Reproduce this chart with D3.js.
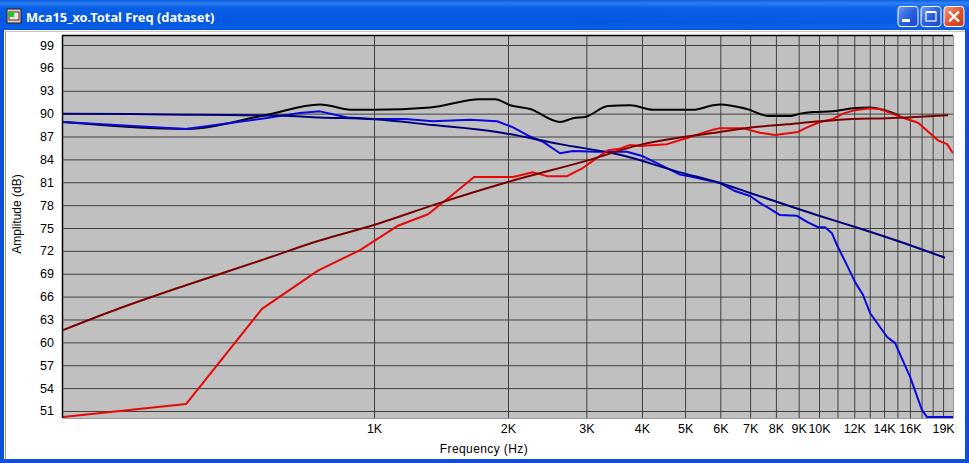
<!DOCTYPE html>
<html><head><meta charset="utf-8">
<script src="https://cdn.jsdelivr.net/npm/d3@7"></script>
<style>html,body{margin:0;padding:0;background:#fff;overflow:hidden}svg{display:block}</style>
</head><body><svg id="c" width="969" height="463"></svg>
<script>
const title = "Mca15_xo.Total Freq (dataset)";
const xTitle = "Frequency (Hz)";
const yTitle = "Amplitude (dB)";
const yTicks = [51,54,57,60,63,66,69,72,75,78,81,84,87,90,93,96,99];
const xGrid = [1000,2000,3000,4000,5000,6000,7000,8000,9000,10000,11000,12000,13000,14000,15000,16000,17000,18000,19000];
const xLabeled = [1000,2000,3000,4000,5000,6000,7000,8000,9000,10000,12000,14000,16000,19000];

const blackF = [200,378,569,756,897,1000,1336,1730,1871,2021,2242,2618,2800,2994,3356,3763,4240,5207,5781,5992,6407,6887,7678,8610,9066,9694,10751,11922,13018,13930,15205];
const blackD = [88.9,88.0,89.8,91.2,90.5,90.5,90.8,91.9,91.9,91.1,90.6,88.9,89.4,89.6,91.0,91.1,90.5,90.5,91.1,91.2,91.0,90.6,89.7,89.7,90.0,90.2,90.3,90.7,90.8,90.5,89.7];

const blueF = [200,378,569,682,756,871,1000,1174,1357,1643,1890,2053,2242,2398,2618,2800,3170,3702,4022,4391,4872,5207,5992,6475,6998,7362,7762,8170,8924,9397,9950,10316,10693,10965,11560,12050,12560,13018,14220,14825,15050,16010,17040,17490,20000];
const blueD = [88.9,88.0,89.4,90.1,90.3,89.5,89.3,89.3,89.0,89.2,89.0,88.2,87.0,86.3,84.8,85.1,85.0,85.0,84.4,83.3,82.0,81.7,80.9,79.85,79.2,78.3,77.5,76.7,76.6,75.8,75.1,75.1,74.3,72.8,70.1,67.9,66.2,63.85,60.7,59.9,59.0,55.5,51.1,50.2,50.2];

const navyF = [200,340,615,756,1000,1357,1890,2618,3570,4872,5992,7000,10000,12100,15205,19190];
const navyD = [90.0,89.9,89.75,89.5,89.25,88.5,87.6,86.0,84.6,82.3,80.9,79.6,76.6,75.1,73.2,71.1];

const redF = [200,378,560,748,930,1132,1322,1482,1678,2053,2276,2447,2715,2950,3170,3356,3570,3763,3960,4553,5050,5781,5992,6745,7362,7962,8971,9397,10050,10751,11320,11922,13018,13710,15205,16695,18500,19400,20000];
const redD = [50.2,51.9,64.4,69.4,72.1,75.3,76.8,79.1,81.7,81.7,82.3,81.8,81.8,82.9,84.2,85.2,85.4,85.9,85.75,86.0,86.8,87.9,88.1,88.1,87.5,87.2,87.6,88.2,88.9,89.3,90.0,90.4,90.7,90.6,89.6,88.8,86.5,86.0,84.8];

const maroonF = [200,269,378,554,748,1000,1407,1990,2994,3960,5050,5992,7108,8472,10050,11922,14220,16865,19490];
const maroonD = [61.6,64.5,67.5,70.7,73.3,75.4,78.3,81.0,83.8,85.9,87.0,87.6,88.2,88.6,89.0,89.3,89.4,89.6,89.8];

const seriesList = [
  {f:blackF, d:blackD, c:"#000000"},
  {f:blueF, d:blueD, c:"#0808e0"},
  {f:navyF, d:navyD, c:"#00007c"},
  {f:redF, d:redD, c:"#e80808"},
  {f:maroonF, d:maroonD, c:"#7c0000"}
];

const svg = d3.select("#c");
const sans = "'Liberation Sans', Arial, sans-serif";
const defs = svg.append("defs");
const g1 = defs.append("linearGradient").attr("id","tb").attr("x1",0).attr("x2",0).attr("y1",0).attr("y2",1);
[[0,"#0a5be0"],[0.1,"#3a8cf5"],[0.25,"#0a62e8"],[0.7,"#0355e0"],[0.9,"#0a64ec"],[1,"#0040c0"]].forEach(s=>g1.append("stop").attr("offset",s[0]).attr("stop-color",s[1]));
const g2 = defs.append("linearGradient").attr("id","tbh").attr("x1",0).attr("x2",1).attr("y1",0).attr("y2",0);
[[0,"#0558e0"],[0.6,"#0558e0"],[1,"#1a6cf0"]].forEach(s=>g2.append("stop").attr("offset",s[0]).attr("stop-color",s[1]).attr("stop-opacity",0.3));
const g3 = defs.append("linearGradient").attr("id","btn").attr("x1",0).attr("x2",1).attr("y1",0).attr("y2",1);
[[0,"#6f9bf5"],[0.5,"#2a5fe0"],[1,"#1a48c8"]].forEach(s=>g3.append("stop").attr("offset",s[0]).attr("stop-color",s[1]));
const g4 = defs.append("linearGradient").attr("id","btnx").attr("x1",0).attr("x2",1).attr("y1",0).attr("y2",1);
[[0,"#eda08a"],[0.5,"#e0552f"],[1,"#c63a18"]].forEach(s=>g4.append("stop").attr("offset",s[0]).attr("stop-color",s[1]));

// window frame
svg.append("rect").attr("width",969).attr("height",463).attr("fill","#0a50d8");
svg.append("rect").attr("width",969).attr("height",31).attr("fill","url(#tb)");
svg.append("rect").attr("width",969).attr("height",31).attr("fill","url(#tbh)");
svg.append("rect").attr("x",4).attr("y",30).attr("width",961).attr("height",429).attr("fill","#ffffff");
svg.append("path").attr("d","M5.5 459V31.5").attr("stroke","#9a9a9a").attr("fill","none").attr("stroke-width",1);
svg.append("path").attr("d","M4 31.5H965").attr("stroke","#c8c8c8").attr("fill","none").attr("stroke-width",1);

// title bar contents
const ic = svg.append("g");
ic.append("rect").attr("x",7).attr("y",9).attr("width",14).attr("height",14).attr("fill","#d8d0c0").attr("stroke","#202020");
ic.append("rect").attr("x",9).attr("y",12).attr("width",10).attr("height",8).attr("fill","#e8e8e0").attr("stroke","#802020");
ic.append("rect").attr("x",9).attr("y",12).attr("width",5).attr("height",5).attr("fill","#10d020");
svg.append("text").attr("x",26).attr("y",22).attr("fill","#fff").attr("font-family","'Noto Sans', 'DejaVu Sans', sans-serif").attr("font-weight",700).attr("font-size",12.85).text(title);

const btn = (x,fill)=>svg.append("rect").attr("x",x).attr("y",6.5).attr("width",20).attr("height",20).attr("rx",3).attr("fill",fill).attr("stroke","#fff");
btn(898,"url(#btn)"); btn(921,"url(#btn)"); btn(944,"url(#btnx)");
svg.append("rect").attr("x",902).attr("y",19).attr("width",8).attr("height",3).attr("fill","#fff");
svg.append("rect").attr("x",926).attr("y",12).attr("width",10).attr("height",9).attr("fill","none").attr("stroke","#fff").attr("stroke-width",1.2);
svg.append("rect").attr("x",926).attr("y",11).attr("width",10).attr("height",2).attr("fill","#fff");
svg.append("path").attr("d","M949 11.5L959 21.5M959 11.5L949 21.5").attr("stroke","#fff").attr("stroke-width",2.4).attr("fill","none");

// plot
const left=63, right=953, top_=36, bottom=418;
const x = d3.scaleLog().domain([200,20000]).range([left,right]);
const y = d3.scaleLinear().domain([50,100]).range([418.6,37.4]);

svg.append("rect").attr("x",left).attr("y",top_).attr("width",right-left).attr("height",bottom-top_).attr("fill","#c0c0c0");

const gridH = svg.append("g").attr("transform",`translate(${left},0)`)
  .call(d3.axisLeft(y).tickValues(yTicks).tickSize(-(right-left)).tickFormat(d=>d).tickPadding(9));
gridH.select(".domain").remove();
gridH.selectAll("line").attr("stroke","#404040").attr("stroke-width",1);
gridH.selectAll("text").attr("font-family",sans).attr("font-size",12.5).attr("fill","#000");

const gridV = svg.append("g").attr("transform",`translate(0,${bottom})`)
  .call(d3.axisBottom(x).tickValues(xGrid).tickSize(-(bottom-top_)).tickFormat(""));
gridV.select(".domain").remove();
gridV.selectAll("line").attr("stroke","#404040").attr("stroke-width",1);

const labV = svg.append("g").attr("transform",`translate(0,${bottom})`)
  .call(d3.axisBottom(x).tickValues(xLabeled).tickSize(0).tickPadding(6).tickFormat(d=>(d/1000)+"K"));
labV.select(".domain").remove();
labV.selectAll("text").attr("font-family",sans).attr("font-size",12.5).attr("fill","#000");

const line = d3.line().x(p=>x(p[0])).y(p=>y(p[1])).curve(d3.curveMonotoneX);
seriesList.forEach(s=>{
  const curve = s.f === redF || s.f === blueF ? d3.curveLinear : d3.curveMonotoneX;
  svg.append("path").datum(s.f.map((v,i)=>[v,s.d[i]])).attr("d",line.curve(curve))
    .attr("fill","none").attr("stroke",s.c).attr("stroke-width",2).attr("stroke-linejoin","round");
});

// frame edges
svg.append("path").attr("d",`M${left-.5} ${bottom}V${top_-.5}H${right}`).attr("fill","none").attr("stroke","#000").attr("stroke-width",1.5);
svg.append("path").attr("d",`M${left} ${bottom+.5}H${right+.5}V${top_}`).attr("fill","none").attr("stroke","#9a9a9a").attr("stroke-width",1);

svg.append("text").attr("x",484).attr("y",453).attr("text-anchor","middle").attr("font-family",sans).attr("font-size",12).attr("letter-spacing",0.4).attr("fill","#000").text(xTitle);
svg.append("text").attr("transform","translate(21,214) rotate(-90)").attr("text-anchor","middle").attr("font-family",sans).attr("font-size",12).attr("fill","#000").text(yTitle);
</script></body></html>
